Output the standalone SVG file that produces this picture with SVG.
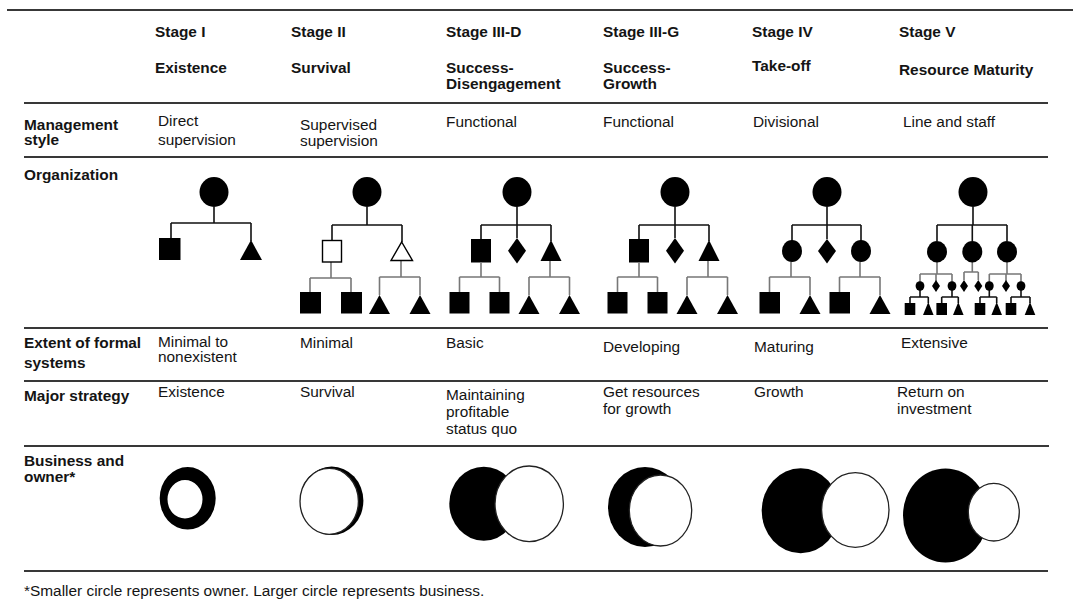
<svg xmlns="http://www.w3.org/2000/svg" width="1073" height="603" viewBox="0 0 1073 603">
  <style>
    .rule { stroke: #383838; stroke-width: 2; fill: none; }
    .hd { font-family: "Liberation Sans", Arial, sans-serif; font-size: 15.4px; font-weight: bold; fill: #141414; }
    .tx { font-family: "Liberation Sans", Arial, sans-serif; font-size: 15.4px; fill: #141414; }
    .ln { stroke: #111; stroke-width: 1.6; fill: none; }
    .ln2 { stroke: #777; stroke-width: 1.6; fill: none; }
    .blk { fill: #000; }
    .open { fill: #fff; stroke: #000; stroke-width: 1.4; }
    .own { fill: #fff; stroke: #222; stroke-width: 1.3; }
  </style>

  <!-- table rules -->
  <g id="rules">
    <line class="rule" x1="7" y1="10" x2="1073" y2="10"/>
    <line class="rule" x1="24" y1="103" x2="1048" y2="103"/>
    <line class="rule" x1="24" y1="157" x2="1048" y2="157"/>
    <line class="rule" x1="24" y1="328" x2="1048" y2="328"/>
    <line class="rule" x1="24" y1="381" x2="1048" y2="381"/>
    <line class="rule" x1="24" y1="446" x2="1049" y2="446"/>
    <line class="rule" x1="24" y1="571" x2="1048" y2="571"/>
  </g>

  <!-- column headers -->
  <g id="headers">
    <text class="hd" x="155" y="37">Stage I</text>
    <text class="hd" x="155" y="73">Existence</text>
    <text class="hd" x="291" y="37">Stage II</text>
    <text class="hd" x="291" y="73">Survival</text>
    <text class="hd" x="446" y="37">Stage III-D</text>
    <text class="hd" x="446" y="73">Success-</text>
    <text class="hd" x="446" y="89">Disengagement</text>
    <text class="hd" x="603" y="37">Stage III-G</text>
    <text class="hd" x="603" y="73">Success-</text>
    <text class="hd" x="603" y="89">Growth</text>
    <text class="hd" x="752" y="37">Stage IV</text>
    <text class="hd" x="752" y="71">Take-off</text>
    <text class="hd" x="899" y="37">Stage V</text>
    <text class="hd" x="899" y="75">Resource Maturity</text>
  </g>

  <!-- row labels -->
  <g id="row-labels">
    <text class="hd" x="24" y="130">Management</text>
    <text class="hd" x="24" y="145">style</text>
    <text class="hd" x="24" y="180">Organization</text>
    <text class="hd" x="24" y="348">Extent of formal</text>
    <text class="hd" x="24" y="368">systems</text>
    <text class="hd" x="24" y="401">Major strategy</text>
    <text class="hd" x="24" y="466">Business and</text>
    <text class="hd" x="24" y="482">owner*</text>
  </g>

  <!-- management style -->
  <g id="management-style">
    <text class="tx" x="158" y="126">Direct</text>
    <text class="tx" x="158" y="145">supervision</text>
    <text class="tx" x="300" y="130">Supervised</text>
    <text class="tx" x="300" y="146">supervision</text>
    <text class="tx" x="446" y="127">Functional</text>
    <text class="tx" x="603" y="127">Functional</text>
    <text class="tx" x="753" y="127">Divisional</text>
    <text class="tx" x="903" y="127">Line and staff</text>
  </g>

  <!-- formal systems -->
  <g id="formal-systems">
    <text class="tx" x="158" y="347">Minimal to</text>
    <text class="tx" x="158" y="362">nonexistent</text>
    <text class="tx" x="300" y="348">Minimal</text>
    <text class="tx" x="446" y="348">Basic</text>
    <text class="tx" x="603" y="352">Developing</text>
    <text class="tx" x="754" y="352">Maturing</text>
    <text class="tx" x="901" y="348">Extensive</text>
  </g>

  <!-- major strategy -->
  <g id="major-strategy">
    <text class="tx" x="158" y="397">Existence</text>
    <text class="tx" x="300" y="397">Survival</text>
    <text class="tx" x="446" y="400">Maintaining</text>
    <text class="tx" x="446" y="417">profitable</text>
    <text class="tx" x="446" y="434">status quo</text>
    <text class="tx" x="603" y="397">Get resources</text>
    <text class="tx" x="603" y="414">for growth</text>
    <text class="tx" x="754" y="397">Growth</text>
    <text class="tx" x="897" y="397">Return on</text>
    <text class="tx" x="897" y="414">investment</text>
  </g>

  <!-- organization chart connectors -->
  <g id="connectors">
    <g id="conn-stage-1">
      <path class="ln" d="M214 207V223M171 223H251M171 223V238M251 223V241"/>
    </g>
    <g id="conn-stage-2">
      <path class="ln" d="M367 207V225M332 225H402M332 225V240M402 225V242"/>
      <path class="ln2" d="M331 262V278M310 278H351M310 278V292M351 278V292"/>
      <path class="ln2" d="M401 261V277M379.5 277H420M379.5 277V295M420 277V295"/>
    </g>
    <g id="conn-stage-3d">
      <path class="ln" d="M517 207V238M481 225H551M481 225V239M551 225V241"/>
      <path class="ln2" d="M481 263V277M459.5 277H499.5M459.5 277V292M499.5 277V292"/>
      <path class="ln2" d="M550 261V277M529 277H569.5M529 277V295M569.5 277V295"/>
    </g>
    <g id="conn-stage-3g" transform="translate(158 0)">
      <path class="ln" d="M517 207V238M481 225H551M481 225V239M551 225V241"/>
      <path class="ln2" d="M481 263V277M459.5 277H499.5M459.5 277V292M499.5 277V292"/>
      <path class="ln2" d="M550 261V277M529 277H569.5M529 277V295M569.5 277V295"/>
    </g>
    <g id="conn-stage-4">
      <path class="ln" d="M827 207V239M792 225H861M792 225V241M861 225V241"/>
      <path class="ln2" d="M791 262V277M769.5 277H810M769.5 277V292M810 277V295"/>
      <path class="ln2" d="M860 262V277M839.5 277H880M839.5 277V292M880 277V295"/>
    </g>
    <g id="conn-stage-5">
      <path class="ln" d="M973 207V225M937 225H1007M937 225V241M972.3 225V241M1007 225V241"/>
      <path class="ln2" d="M937 262V274M920 274H952M920 274V282M936 274V281M952 274V282"/>
      <path class="ln2" d="M972.3 262V272M964 272H978.3M964 272V280M978.3 272V280"/>
      <path class="ln2" d="M1007 262V274M989.3 274H1021M989.3 274V282M1006 274V281M1021 274V282"/>
      <path class="ln" d="M920 290V297M910 297H928.3M910 297V303M928.3 297V303"/>
      <path class="ln" d="M952 290V297M941.7 297H958.3M941.7 297V303M958.3 297V303"/>
      <path class="ln" d="M989.3 290V297M980 297H996.7M980 297V303M996.7 297V303"/>
      <path class="ln" d="M1021 290V297M1011 297H1030M1011 297V303M1030 297V303"/>
    </g>
  </g>

  <!-- organization chart nodes -->
  <g id="org-stage-1">
    <ellipse class="blk" cx="214" cy="192" rx="14.5" ry="15"/>
    <rect class="blk" x="159" y="238" width="21.5" height="22"/>
    <polygon class="blk" points="251,240 262,260 240,260"/>
  </g>

  <g id="org-stage-2">
    <ellipse class="blk" cx="367" cy="192" rx="14.5" ry="15"/>
    <rect class="open" x="322.5" y="240.5" width="19" height="21.5"/>
    <polygon class="open" points="401.7,242 412.5,260.5 391,260.5"/>
    <rect class="blk" x="300" y="292" width="21" height="21.5"/>
    <rect class="blk" x="341" y="292" width="21" height="21.5"/>
    <polygon class="blk" points="379.5,295 390,314 369,314"/>
    <polygon class="blk" points="420,295 430.5,314 409.5,314"/>
  </g>

  <g id="org-stage-3d">
    <ellipse class="blk" cx="517" cy="192" rx="14.5" ry="15"/>
    <rect class="blk" x="471" y="239" width="20" height="23.5"/>
    <polygon class="blk" points="517,238 526,250.8 517,263.5 508,250.8"/>
    <polygon class="blk" points="551,240 561.5,261 540.5,261"/>
    <rect class="blk" x="449.5" y="292" width="20" height="21.5"/>
    <rect class="blk" x="489.5" y="292" width="20" height="21.5"/>
    <polygon class="blk" points="529,295 539.5,314 518.5,314"/>
    <polygon class="blk" points="569.5,295 580,314 559,314"/>
  </g>

  <g id="org-stage-3g" transform="translate(158 0)">
    <ellipse class="blk" cx="517" cy="192" rx="14.5" ry="15"/>
    <rect class="blk" x="471" y="239" width="20" height="23.5"/>
    <polygon class="blk" points="517,238 526,250.8 517,263.5 508,250.8"/>
    <polygon class="blk" points="551,240 561.5,261 540.5,261"/>
    <rect class="blk" x="449.5" y="292" width="20" height="21.5"/>
    <rect class="blk" x="489.5" y="292" width="20" height="21.5"/>
    <polygon class="blk" points="529,295 539.5,314 518.5,314"/>
    <polygon class="blk" points="569.5,295 580,314 559,314"/>
  </g>

  <g id="org-stage-4">
    <ellipse class="blk" cx="827" cy="192" rx="14.5" ry="15"/>
    <ellipse class="blk" cx="792" cy="251" rx="10" ry="11"/>
    <polygon class="blk" points="827,239 836,251 827,263.5 818,251"/>
    <ellipse class="blk" cx="861" cy="251" rx="10" ry="11"/>
    <rect class="blk" x="759.5" y="292" width="20.5" height="21.5"/>
    <polygon class="blk" points="810,295 820.5,314 799.5,314"/>
    <rect class="blk" x="829.5" y="292" width="20.5" height="21.5"/>
    <polygon class="blk" points="880,295 890.5,314 869.5,314"/>
  </g>

  <g id="org-stage-5">
    <ellipse class="blk" cx="973" cy="192" rx="14.5" ry="15"/>
    <ellipse class="blk" cx="937" cy="251.7" rx="10" ry="10.7"/>
    <ellipse class="blk" cx="972.3" cy="251.7" rx="10" ry="10.7"/>
    <ellipse class="blk" cx="1007" cy="251.7" rx="10" ry="10.7"/>
    <!-- third tier -->
    <ellipse class="blk" cx="920" cy="286" rx="4.4" ry="4.8"/>
    <polygon class="blk" points="936,280 940,286 936,292 932,286"/>
    <ellipse class="blk" cx="952" cy="286" rx="4.4" ry="4.8"/>
    <polygon class="blk" points="964,280 968,286 964,292 960,286"/>
    <polygon class="blk" points="978.3,280 982.3,286 978.3,292 974.3,286"/>
    <ellipse class="blk" cx="989.3" cy="286" rx="4.4" ry="4.8"/>
    <polygon class="blk" points="1006,280 1010,286 1006,292 1002,286"/>
    <ellipse class="blk" cx="1021" cy="286" rx="4.4" ry="4.8"/>
    <!-- fourth tier -->
    <rect class="blk" x="904.7" y="303" width="10.6" height="12"/>
    <polygon class="blk" points="928.3,302 933.6,315 923,315"/>
    <rect class="blk" x="936.4" y="303" width="10.6" height="12"/>
    <polygon class="blk" points="958.3,302 963.6,315 953,315"/>
    <rect class="blk" x="974.7" y="303" width="10.6" height="12"/>
    <polygon class="blk" points="996.7,302 1002,315 991.4,315"/>
    <rect class="blk" x="1005.7" y="303" width="10.6" height="12"/>
    <polygon class="blk" points="1030,302 1035.3,315 1024.7,315"/>
  </g>

  <!-- business (black) and owner (white) -->
  <g id="bo-stage-1">
    <path class="blk" fill-rule="evenodd" d="M159.7 498.3a28 31.3 0 1 0 56 0a28 31.3 0 1 0 -56 0ZM167.5 499.3a17.5 19.2 0 1 0 35 0a17.5 19.2 0 1 0 -35 0Z"/>
  </g>
  <g id="bo-stage-2">
    <ellipse class="blk" cx="331.7" cy="500.8" rx="31.7" ry="34.2"/>
    <ellipse class="own" cx="329.2" cy="501.3" rx="29.2" ry="33"/>
  </g>
  <g id="bo-stage-3d">
    <ellipse class="blk" cx="483.8" cy="503.7" rx="34.5" ry="37"/>
    <ellipse class="own" cx="529.2" cy="503.8" rx="34.2" ry="37.8"/>
  </g>
  <g id="bo-stage-3g">
    <ellipse class="blk" cx="645" cy="507" rx="37" ry="40"/>
    <ellipse class="own" cx="660.5" cy="510.5" rx="31.2" ry="35.5"/>
  </g>
  <g id="bo-stage-4">
    <ellipse class="blk" cx="800.7" cy="510.8" rx="39" ry="42.5"/>
    <ellipse class="own" cx="855.3" cy="510" rx="33.7" ry="37.3"/>
  </g>
  <g id="bo-stage-5">
    <ellipse class="blk" cx="945.5" cy="515.5" rx="42.5" ry="47"/>
    <ellipse class="own" cx="993.8" cy="512.2" rx="25.5" ry="28.8"/>
  </g>

  <text id="footnote" class="tx" x="24" y="596">*Smaller circle represents owner. Larger circle represents business.</text>
</svg>
